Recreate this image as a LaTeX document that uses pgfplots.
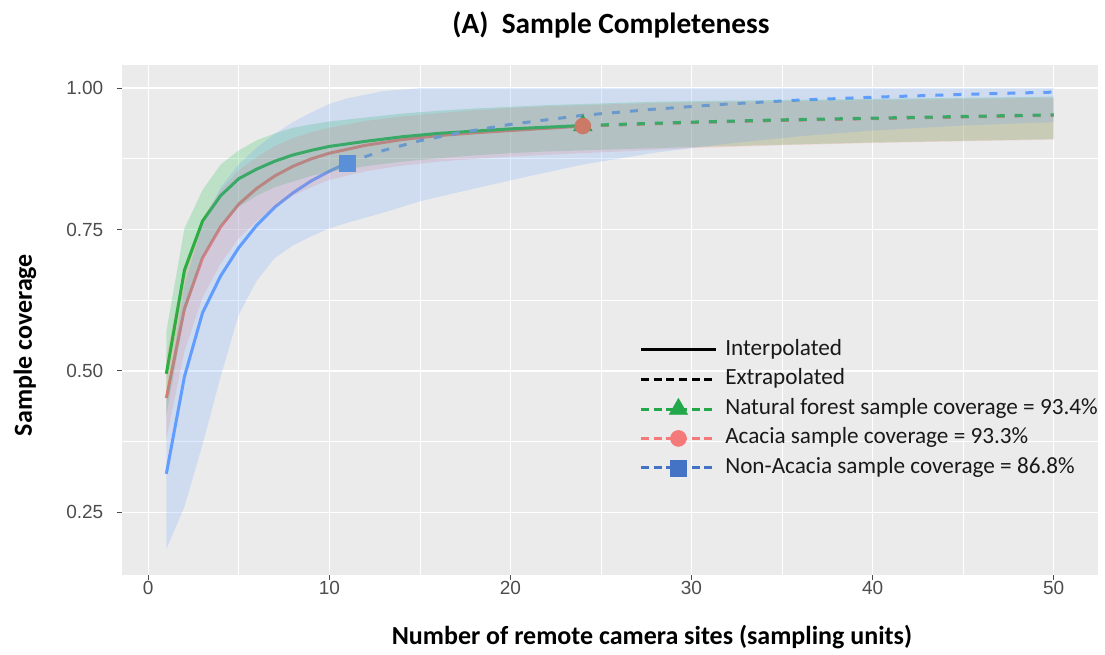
\documentclass[border=0pt]{standalone}
\usepackage{fontspec}
\setmainfont{Carlito}
\newfontfamily\arialf{Liberation Sans}
\usepackage{pgfplots}
\pgfplotsset{compat=1.18}
\usepgfplotslibrary{fillbetween}
\usepackage{pgfplotstable}

\definecolor{panelbg}{RGB}{235,235,235}
\definecolor{cR}{HTML}{F8766D}
\definecolor{cG}{HTML}{00BA38}
\definecolor{cB}{HTML}{619CFF}
\definecolor{mR}{HTML}{CC7A68}
\definecolor{mB}{HTML}{5A90D8}
\definecolor{mG}{HTML}{2E9E50}
\definecolor{lgG}{HTML}{22A84A}
\definecolor{lgR}{HTML}{F47A7A}
\definecolor{lgB}{HTML}{4472C4}
\definecolor{tickgrey}{RGB}{77,77,77}

% Natural forest
\pgfplotstableread{
x lo m hi
1 0.42 0.495 0.57
2 0.60 0.678 0.752
3 0.70 0.765 0.82
4 0.755 0.81 0.865
5 0.79 0.84 0.89
6 0.81 0.857 0.908
7 0.825 0.871 0.92
8 0.835 0.882 0.93
9 0.845 0.89 0.936
10 0.852 0.897 0.941
12 0.862 0.906 0.948
14 0.87 0.914 0.955
16 0.876 0.92 0.96
18 0.881 0.924 0.964
20 0.885 0.928 0.967
22 0.888 0.931 0.97
24 0.89 0.934 0.972
26 0.892 0.936 0.974
28 0.894 0.938 0.976
30 0.896 0.94 0.977
35 0.9 0.944 0.979
40 0.904 0.947 0.981
45 0.907 0.95 0.983
50 0.91 0.953 0.985
}\natT

% Acacia
\pgfplotstableread{
x lo m hi
1 0.38 0.452 0.525
2 0.535 0.61 0.685
3 0.63 0.70 0.77
4 0.69 0.755 0.82
5 0.735 0.795 0.855
6 0.765 0.823 0.878
7 0.79 0.845 0.898
8 0.81 0.862 0.912
9 0.825 0.875 0.922
10 0.838 0.885 0.93
12 0.853 0.899 0.942
14 0.863 0.909 0.95
16 0.87 0.916 0.956
18 0.875 0.921 0.961
20 0.879 0.925 0.965
22 0.882 0.929 0.968
24 0.885 0.933 0.97
26 0.888 0.935 0.972
28 0.891 0.937 0.974
30 0.894 0.939 0.975
35 0.899 0.943 0.977
40 0.903 0.946 0.979
45 0.906 0.949 0.981
50 0.909 0.952 0.983
}\acaT

% Non-Acacia
\pgfplotstableread{
x lo m hi
1 0.185 0.318 0.45
2 0.26 0.49 0.65
3 0.37 0.603 0.76
4 0.49 0.668 0.825
5 0.60 0.718 0.865
6 0.66 0.758 0.895
7 0.70 0.79 0.92
8 0.722 0.815 0.94
9 0.738 0.836 0.957
10 0.752 0.853 0.972
11 0.762 0.868 0.982
13 0.78 0.89 0.995
15 0.80 0.907 1.0
17 0.815 0.92 1.0
20 0.837 0.936 1.0
24 0.865 0.952 1.0
28 0.886 0.963 1.0
32 0.902 0.972 1.0
36 0.915 0.979 1.0
40 0.925 0.984 1.0
45 0.934 0.989 1.0
50 0.94 0.993 1.0
}\nonT

\begin{document}
\begin{tikzpicture}
\begin{axis}[
  at={(0pt,0pt)}, anchor=south west,
  scale only axis, width=732pt, height=382.5pt,
  xmin=-1.45, xmax=52.45, ymin=0.139, ymax=1.041,
  set layers,
  axis background/.style={fill=panelbg},
  axis line style={draw=none},
  tick pos=left, tick align=outside,
  major tick length=3.5pt, minor tick length=0pt,
  every tick/.style={draw=tickgrey, line width=0.8pt},
  xtick={0,10,...,50}, ytick={0.25,0.5,0.75,1},
  minor xtick={5,15,25,35,45}, minor ytick={0.375,0.625,0.875},
  grid=both,
  major grid style={white, line width=1.1pt},
  minor grid style={white, line width=0.55pt},
  yticklabel style={/pgf/number format/fixed, /pgf/number format/fixed zerofill, /pgf/number format/precision=2, xshift=-7pt},
  xticklabel style={yshift=2pt},
  ticklabel style={font=\arialf\fontsize{14.25}{16}\selectfont, text=tickgrey},
  /pgf/number format/assume math mode=true,
  legend style={at={(axis cs:27.12,0.5555)}, anchor=north west, draw=none, fill=none,
    inner sep=0pt, font=\fontsize{17.4}{20}\selectfont, text=black!90, row sep=7pt,
    nodes={inner sep=0pt, text height=11.5pt, text depth=3.5pt},
    /tikz/every odd column/.append style={column sep=6pt}},
  legend cell align=left,
]
% lines (drawn beneath ribbons, on the same layer as the ribbons)
\addplot[cR, line width=2.25pt, restrict x to domain=1:24, forget plot, on layer=pre main] table[x=x,y=m]{\acaT};
\addplot[cR, line width=2.25pt, dash pattern=on 6pt off 7.5pt, restrict x to domain=24:50, forget plot, on layer=pre main] table[x=x,y=m]{\acaT};
\addplot[cG, line width=2.25pt, restrict x to domain=1:24, forget plot, on layer=pre main] table[x=x,y=m]{\natT};
\addplot[cG, line width=2.25pt, dash pattern=on 6pt off 7.5pt, restrict x to domain=24:50, forget plot, on layer=pre main] table[x=x,y=m]{\natT};
\addplot[cB, line width=2.25pt, restrict x to domain=1:11, forget plot, on layer=pre main] table[x=x,y=m]{\nonT};
\addplot[cB, line width=2.25pt, dash pattern=on 6pt off 7.5pt, restrict x to domain=11:50, forget plot, on layer=pre main] table[x=x,y=m]{\nonT};
% markers
\addplot[only marks, mark=triangle*, mark size=8pt, mG, forget plot, on layer=pre main] coordinates {(24,0.934)};
\addplot[only marks, mark=*, mark size=6pt, mR, forget plot, on layer=pre main] coordinates {(24,0.933)};
\addplot[only marks, mark=square*, mark size=6pt, mB, forget plot, on layer=pre main] coordinates {(11,0.868)};
% ribbons
\addplot[name path=gU, draw=none, forget plot] table[x=x,y=hi]{\natT};
\addplot[name path=gL, draw=none, forget plot] table[x=x,y=lo]{\natT};
\addplot[cG, fill opacity=0.2, draw=none, forget plot] fill between[of=gU and gL];
\addplot[name path=rU, draw=none, forget plot] table[x=x,y=hi]{\acaT};
\addplot[name path=rL, draw=none, forget plot] table[x=x,y=lo]{\acaT};
\addplot[cR, fill opacity=0.2, draw=none, forget plot] fill between[of=rU and rL];
\addplot[name path=bU, draw=none, forget plot] table[x=x,y=hi]{\nonT};
\addplot[name path=bL, draw=none, forget plot] table[x=x,y=lo]{\nonT};
\addplot[cB, fill opacity=0.2, draw=none, forget plot] fill between[of=bU and bL];
% legend
\addlegendimage{legend image code/.code={\draw[black, line width=2.25pt] (0pt,0pt) -- (56pt,0pt);}}
\addlegendentry{Interpolated}
\addlegendimage{legend image code/.code={\draw[black, line width=2.25pt, dash pattern=on 6pt off 3.5pt] (0pt,0pt) -- (56pt,0pt);}}
\addlegendentry{Extrapolated}
\addlegendimage{legend image code/.code={\draw[lgG, line width=2.25pt, dash pattern=on 6pt off 3.5pt] (0pt,0pt) -- (56pt,0pt); \draw[lgG] plot[mark=triangle*, mark size=8pt] coordinates {(28pt,0pt)};}}
\addlegendentry{Natural forest sample coverage = 93.4\%}
\addlegendimage{legend image code/.code={\draw[lgR, line width=2.25pt, dash pattern=on 6pt off 3.5pt] (0pt,0pt) -- (56pt,0pt); \draw[lgR] plot[mark=*, mark size=6pt] coordinates {(28pt,0pt)};}}
\addlegendentry{Acacia sample coverage = 93.3\%}
\addlegendimage{legend image code/.code={\draw[lgB, line width=2.25pt, dash pattern=on 6pt off 3.5pt] (0pt,0pt) -- (56pt,0pt); \draw[lgB] plot[mark=square*, mark size=6pt] coordinates {(28pt,0pt)};}}
\addlegendentry{Non-Acacia sample coverage = 86.8\%}
\end{axis}
\node[font=\bfseries\fontsize{22}{26}\selectfont] at (366.75pt,412.5pt) {(A)\ \ Sample Completeness};
\node[font=\bfseries\fontsize{19.5}{23}\selectfont] at (397.5pt,-46.5pt) {Number of remote camera sites (sampling units)};
\node[font=\bfseries\fontsize{19.5}{23}\selectfont, rotate=90] at (-72.75pt,172.5pt) {Sample coverage};
\pgfresetboundingbox
\path[use as bounding box] (-91.5pt,-60pt) rectangle (737.25pt,431.25pt);
\end{tikzpicture}
\end{document}
